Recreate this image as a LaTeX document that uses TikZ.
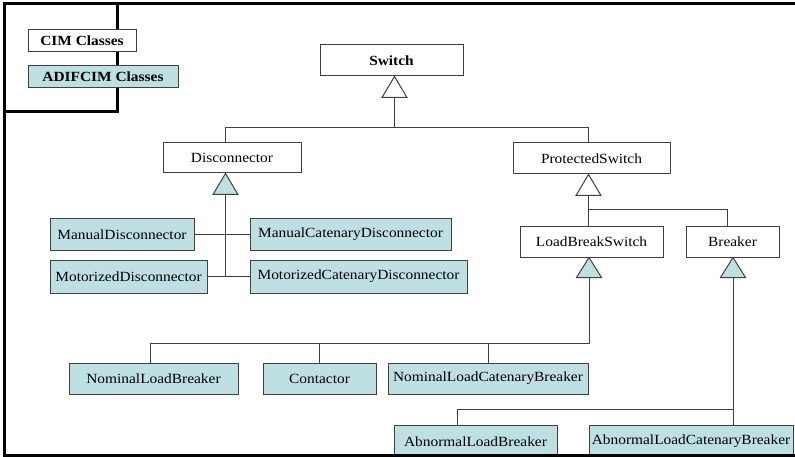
\documentclass[tikz,border=0pt]{standalone}
\usepackage{fontspec}
\setmainfont[FakeStretch=1.1]{Liberation Serif}
\usetikzlibrary{calc}
\definecolor{adif}{RGB}{190,224,227}
\definecolor{lgray}{RGB}{64,64,64}
\begin{document}
\begin{tikzpicture}[x=1pt,y=-1pt,
  cls/.style={draw=lgray, line width=1pt, fill=white, inner sep=0pt,
    font=\fontsize{14}{16}\selectfont},
  adifcls/.style={cls, fill=adif},
  conn/.style={draw=lgray, line width=1pt},
  opentri/.style={draw=lgray, line width=1pt, fill=white},
  fulltri/.style={draw=lgray, line width=1pt, fill=adif},
  frame/.style={draw=black, line width=3pt}]
\useasboundingbox (0,0) rectangle (795,457);

% legend
\node[frame, minimum width=113pt, minimum height=108pt, inner sep=0pt] (legend) at (60.5,58) {};
\node[cls, minimum width=108pt, minimum height=22pt] (cimkey) at (82,41) {\textbf{CIM Classes}};
\node[adifcls, minimum width=150pt, minimum height=22pt] (adifkey) at (103,77) {\textbf{ADIFCIM Classes}};

% classes
\node[cls, minimum width=143pt, minimum height=31pt] (sw) at (391.5,60.5) {\textbf{Switch}};
\node[cls, minimum width=138pt, minimum height=30pt] (disc) at (232,158) {Disconnector};
\node[cls, minimum width=157pt, minimum height=31pt] (ps) at (591.5,158.5) {ProtectedSwitch};
\node[cls, minimum width=143pt, minimum height=30pt] (lbs) at (591.5,242) {LoadBreakSwitch};
\node[cls, minimum width=93pt, minimum height=30pt] (brk) at (732.5,242) {Breaker};

\node[adifcls, minimum width=144pt, minimum height=31pt] (md) at (122,234.5) {ManualDisconnector};
\node[adifcls, minimum width=201pt, minimum height=31pt] (mcd) at (350.5,234.5) {ManualCatenaryDisconnector};
\node[adifcls, minimum width=157pt, minimum height=33pt] (motd) at (128.5,276.5) {MotorizedDisconnector};
\node[adifcls, minimum width=217pt, minimum height=33pt] (motcd) at (358.5,276.5) {MotorizedCatenaryDisconnector};

\node[adifcls, minimum width=169pt, minimum height=31pt] (nlb) at (153.5,378.5) {NominalLoadBreaker};
\node[adifcls, minimum width=113pt, minimum height=31pt] (con) at (319.5,378.5) {Contactor};
\node[adifcls, minimum width=200pt, minimum height=31pt] (nlcb) at (488,378.5) {NominalLoadCatenaryBreaker};
\node[adifcls, minimum width=163pt, minimum height=33pt] (alb) at (475.5,441.5) {AbnormalLoadBreaker};
\node[adifcls, minimum width=204pt, minimum height=33pt] (alcb) at (691,441.5) {AbnormalLoadCatenaryBreaker};

% Switch generalization
\coordinate (swt) at ([xshift=3pt]sw.south);
\coordinate (swb) at ($(swt)+(0,21)$);
\coordinate (j1) at ($(swt)+(0,51)$);
\draw[opentri] (swt) -- ++(-12.5,21) -- ++(25,0) -- cycle;
\draw[conn] (swb) -- (j1);
\draw[conn] ([xshift=-7pt]disc.north) |- (j1) -| ([xshift=-3.5pt]ps.north);

% Disconnector generalization
\coordinate (dt) at ([xshift=-6.5pt]disc.south);
\coordinate (db) at ($(dt)+(0,21)$);
\draw[fulltri] (dt) -- ++(-12.5,21) -- ++(25,0) -- cycle;
\draw[conn] (db) -- (db |- motd.east);
\draw[conn] (md.east) -- (mcd.west);
\draw[conn] (motd.east) -- (motcd.west);

% ProtectedSwitch generalization
\coordinate (pt) at ([xshift=-3pt]ps.south);
\coordinate (pb) at ($(pt)+(0,21)$);
\coordinate (j2) at ($(pt)+(0,35)$);
\draw[opentri] (pt) -- ++(-12.5,21) -- ++(25,0) -- cycle;
\draw[conn] (pb) -- (pb |- lbs.north);
\draw[conn] (j2) -| ([xshift=-5.5pt]brk.north);

% LoadBreakSwitch generalization
\coordinate (lt) at ([xshift=-2.5pt]lbs.south);
\coordinate (lb) at ($(lt)+(0,20)$);
\coordinate (j3) at ($(lt)+(0,86)$);
\draw[fulltri] (lt) -- ++(-12.5,20) -- ++(25,0) -- cycle;
\draw[conn] (lb) -- (j3);
\draw[conn] ([xshift=-3.5pt]nlb.north) |- (j3);
\draw[conn] (con.north) -- (con.north |- j3);
\draw[conn] (nlcb.north) -- (nlcb.north |- j3);

% Breaker generalization
\coordinate (bt) at ([xshift=0.5pt]brk.south);
\coordinate (bb) at ($(bt)+(0,20)$);
\coordinate (j4) at ($(bt)+(0,152)$);
\draw[fulltri] (bt) -- ++(-12.5,20) -- ++(25,0) -- cycle;
\draw[conn] (bb) -- (bb |- alcb.north);
\draw[conn] ([xshift=-18.5pt]alb.north) |- (j4);

% outer frame
\coordinate (fa) at (4,455);
\coordinate (fb) at (4,4);
\coordinate (fc) at (795,4);
\coordinate (fd) at (795,455);
\draw[frame] (fc) -- (fb) -- (fa) -- (fd);
\end{tikzpicture}
\end{document}
